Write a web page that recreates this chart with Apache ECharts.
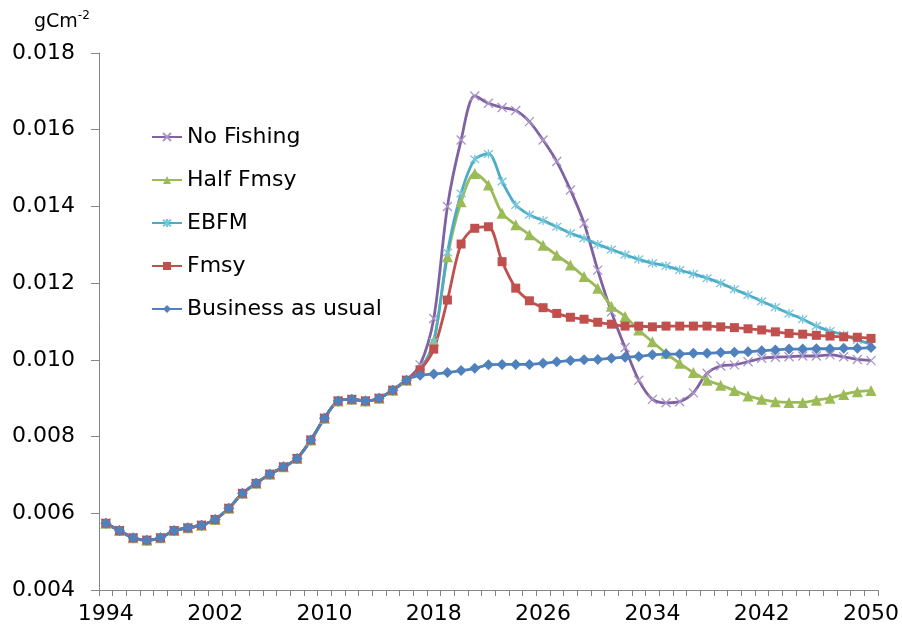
<!DOCTYPE html>
<html>
<head>
<meta charset="utf-8">
<script src="https://cdn.jsdelivr.net/npm/echarts@6/dist/echarts.min.js"></script>
<style>
  html, body { margin: 0; padding: 0; background: #fff; }
  #chart { width: 902px; height: 632px; }
</style>
</head>
<body>
<div id="chart"></div>
<script>
// Years on the category axis
const years = [];
for (let y = 1994; y <= 2050; y++) years.push(String(y));

// Shared hindcast, 1994-2016 (gC m-2)
const history = [0.00574, 0.00555, 0.00536, 0.00530, 0.00536, 0.00555, 0.00562, 0.00569,
  0.00584, 0.00613, 0.00652, 0.00678, 0.00702, 0.00721, 0.00743, 0.00791, 0.00848,
  0.00893, 0.00897, 0.00893, 0.00900, 0.00921, 0.00947];

// Scenario projections, 2017-2050
const noFishing = [0.00987, 0.01108, 0.01400, 0.01573, 0.01688, 0.01669, 0.01658, 0.01650,
  0.01621, 0.01573, 0.01517, 0.01443, 0.01356, 0.01234, 0.01125, 0.01032, 0.00947, 0.00897,
  0.00888, 0.00891, 0.00914, 0.00965, 0.00984, 0.00987, 0.00995, 0.01004, 0.01007, 0.01008,
  0.01010, 0.01010, 0.01013, 0.01008, 0.01001, 0.00998];
const halfFmsy = [0.00972, 0.01050, 0.01269, 0.01412, 0.01486, 0.01456, 0.01382, 0.01352,
  0.01326, 0.01299, 0.01273, 0.01247, 0.01217, 0.01187, 0.01140, 0.01113, 0.01078, 0.01047,
  0.01017, 0.00991, 0.00967, 0.00947, 0.00934, 0.00920, 0.00906, 0.00897, 0.00891, 0.00889,
  0.00889, 0.00895, 0.00900, 0.00910, 0.00917, 0.00920];
const ebfm = [0.00975, 0.01047, 0.01280, 0.01434, 0.01523, 0.01537, 0.01465, 0.01404,
  0.01378, 0.01363, 0.01347, 0.01330, 0.01317, 0.01301, 0.01288, 0.01274, 0.01262, 0.01252,
  0.01245, 0.01234, 0.01224, 0.01213, 0.01200, 0.01184, 0.01169, 0.01153, 0.01137, 0.01121,
  0.01106, 0.01088, 0.01075, 0.01065, 0.01052, 0.01041];
const fmsy = [0.00974, 0.01028, 0.01156, 0.01302, 0.01343, 0.01347, 0.01256, 0.01187,
  0.01154, 0.01136, 0.01121, 0.01111, 0.01106, 0.01098, 0.01093, 0.01088, 0.01088, 0.01086,
  0.01088, 0.01088, 0.01088, 0.01088, 0.01086, 0.01084, 0.01081, 0.01078, 0.01073, 0.01069,
  0.01067, 0.01064, 0.01062, 0.01060, 0.01059, 0.01056];
const businessAsUsual = [0.00960, 0.00963, 0.00967, 0.00972, 0.00978, 0.00987, 0.00988,
  0.00988, 0.00988, 0.00991, 0.00995, 0.00998, 0.01000, 0.01001, 0.01004, 0.01007, 0.01009,
  0.01013, 0.01015, 0.01015, 0.01017, 0.01017, 0.01019, 0.01020, 0.01021, 0.01024, 0.01026,
  0.01028, 0.01028, 0.01029, 0.01029, 0.01030, 0.01030, 0.01032];

const seriesNames = ['No Fishing', 'Half Fmsy', 'EBFM', 'Fmsy', 'Business as usual'];

// Y axis range
const yMin = 0.004, yMax = 0.018, yStep = 0.002;

const FONT = '"DejaVu Sans", Verdana, sans-serif';
const crossPath = 'path://M0,0 L10,10 M10,0 L0,10';
const starPath = 'path://M0,0 L10,10 M10,0 L0,10 M5,-1 L5,11';

function line(name, proj, color, symbol, size, markerStyle) {
  return {
    name: name,
    type: 'line',
    data: history.concat(proj),
    smooth: 0.3,
    symbol: symbol,
    symbolSize: size,
    showAllSymbol: true,
    lineStyle: { color: color, width: 2.8 },
    itemStyle: markerStyle || { color: color },
    emphasis: { disabled: true }
  };
}

const chart = echarts.init(document.getElementById('chart'), null, { renderer: 'canvas' });
chart.setOption({
  animation: false,
  backgroundColor: '#fff',
  title: {
    text: '{u|gCm}{s|-2}',
    left: 29, top: 5,
    textStyle: {
      fontWeight: 'normal',
      rich: {
        u: { fontFamily: FONT, fontSize: 19, fontWeight: 'normal', color: '#000', verticalAlign: 'bottom' },
        s: { fontFamily: FONT, fontSize: 12, fontWeight: 'normal', color: '#000', verticalAlign: 'top', padding: [0, 0, 10, 0] }
      }
    }
  },
  grid: { left: 99, right: 23, top: 53, bottom: 42, containLabel: false },
  legend: {
    orient: 'vertical',
    left: 146, top: 121,
    itemWidth: 30, itemHeight: 10, itemGap: 21,
    data: seriesNames,
    textStyle: { fontFamily: FONT, fontSize: 22, color: '#000' }
  },
  xAxis: {
    type: 'category',
    data: years,
    boundaryGap: true,
    axisLine: { lineStyle: { color: '#868686', width: 1 } },
    axisTick: { show: true, interval: 0, length: 6, lineStyle: { color: '#868686' } },
    axisLabel: { interval: 7, fontFamily: FONT, fontSize: 22, color: '#000', margin: 13 },
    splitLine: { show: false }
  },
  yAxis: {
    type: 'value',
    min: yMin, max: yMax, interval: yStep,
    axisLine: { show: true, lineStyle: { color: '#868686', width: 1 } },
    axisTick: { show: true, length: 8, lineStyle: { color: '#868686' } },
    axisLabel: {
      fontFamily: FONT, fontSize: 22, color: '#000', margin: 24,
      formatter: v => v.toFixed(3)
    },
    splitLine: { show: false }
  },
  series: [
    line('No Fishing', noFishing, '#7f62a1', crossPath, 9,
      { color: '#a995c8', borderColor: '#a995c8', borderWidth: 1.3 }),
    line('Half Fmsy', halfFmsy, '#9bbb59', 'triangle', 11),
    line('EBFM', ebfm, '#4bacc6', starPath, 9,
      { color: '#78c6db', borderColor: '#78c6db', borderWidth: 1.3 }),
    line('Fmsy', fmsy, '#c0504d', 'rect', 9),
    line('Business as usual', businessAsUsual, '#4f81bd', 'diamond', 11)
  ]
});
</script>
</body>
</html>
